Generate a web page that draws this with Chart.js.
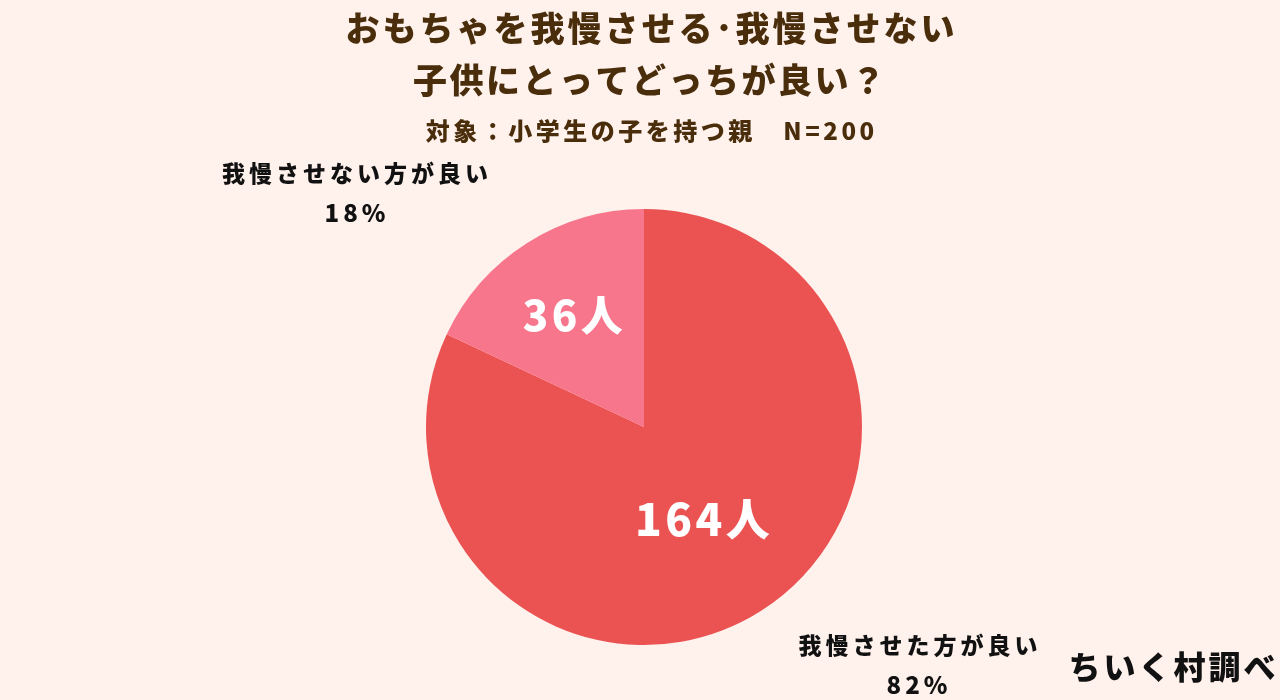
<!DOCTYPE html>
<html>
<head>
<meta charset="utf-8">
<script src="https://cdn.jsdelivr.net/npm/chart.js@4/dist/chart.umd.min.js"></script>
<style>
  html, body { margin: 0; padding: 0; background: #FFF1EC; }
  #wrap { width: 1280px; height: 700px; }
</style>
</head>
<body>
<div id="wrap"><canvas id="pie_canvas" width="1280" height="700"></canvas></div>
<script>
const categories = ["我慢させた方が良い", "我慢させない方が良い"];
const counts = [164, 36];
const percents = ["82%", "18%"];
const sliceColors = ["#EB5353", "#F8768C"];

const titleLines = ["おもちゃを我慢させる･我慢させない", "子供にとってどっちが良い？"];
const subTitle = "対象：小学生の子を持つ親　N=200";
const credit = "ちいく村調べ";

const FONT = '"Noto Sans CJK JP", sans-serif';

// label placement inside slices (fraction of radius)
const innerFactor = [0.5, 0.61];

// centred text with letter spacing (spacing adds a trailing gap, so shift by half)
function spaced(c, txt, x, y, font, sp) {
  c.font = font;
  c.letterSpacing = sp + "px";
  c.fillText(txt, x + sp / 2, y);
  c.letterSpacing = "0px";
}

const textPlugin = {
  id: "texts",
  beforeDraw(chart) {
    const c = chart.ctx;
    c.save();
    c.fillStyle = "#FFF1EC";
    c.fillRect(0, 0, chart.width, chart.height);
    c.restore();
  },
  afterDraw(chart) {
    const c = chart.ctx;
    c.save();
    c.textAlign = "center";
    c.textBaseline = "middle";

    // title
    c.fillStyle = "#4A2E0C";
    spaced(c, titleLines[0], 650, 28, "900 34px " + FONT, 3);
    spaced(c, titleLines[1], 649, 80, "900 34px " + FONT, 2.5);
    spaced(c, subTitle, 650, 131, "900 24px " + FONT, 3.5);

    // outside labels
    c.fillStyle = "#111";
    spaced(c, categories[1], 355, 173, "900 23px " + FONT, 4);
    spaced(c, percents[1], 355, 213, "900 24px " + FONT, 4);
    spaced(c, categories[0], 918, 645, "900 23px " + FONT, 4);
    spaced(c, percents[0], 917, 685, "900 24px " + FONT, 4);

    spaced(c, credit, 1172, 667, "900 32px " + FONT, 3);

    // counts inside slices
    const meta = chart.getDatasetMeta(0);
    c.fillStyle = "#fff";
    meta.data.forEach((arc, i) => {
      const p = arc.getProps(["x", "y", "startAngle", "endAngle", "outerRadius"], true);
      const mid = (p.startAngle + p.endAngle) / 2;
      const r = p.outerRadius * innerFactor[i];
      spaced(c, counts[i] + "人", p.x + Math.cos(mid) * r, p.y + Math.sin(mid) * r,
        (i === 0 ? "900 44px " : "900 42px ") + FONT, 3.5);
    });
    c.restore();
  }
};

const chart = new Chart(document.getElementById("pie_canvas").getContext("2d"), {
  type: "pie",
  data: {
    labels: categories,
    datasets: [{
      data: counts,
      backgroundColor: sliceColors,
      borderWidth: 0
    }]
  },
  options: {
    responsive: false,
    animation: false,
    layout: { padding: { top: 209, bottom: 55, left: 8, right: 0 } },
    plugins: {
      legend: { display: false },
      tooltip: { enabled: false }
    }
  },
  plugins: [textPlugin]
});
</script>
</body>
</html>
